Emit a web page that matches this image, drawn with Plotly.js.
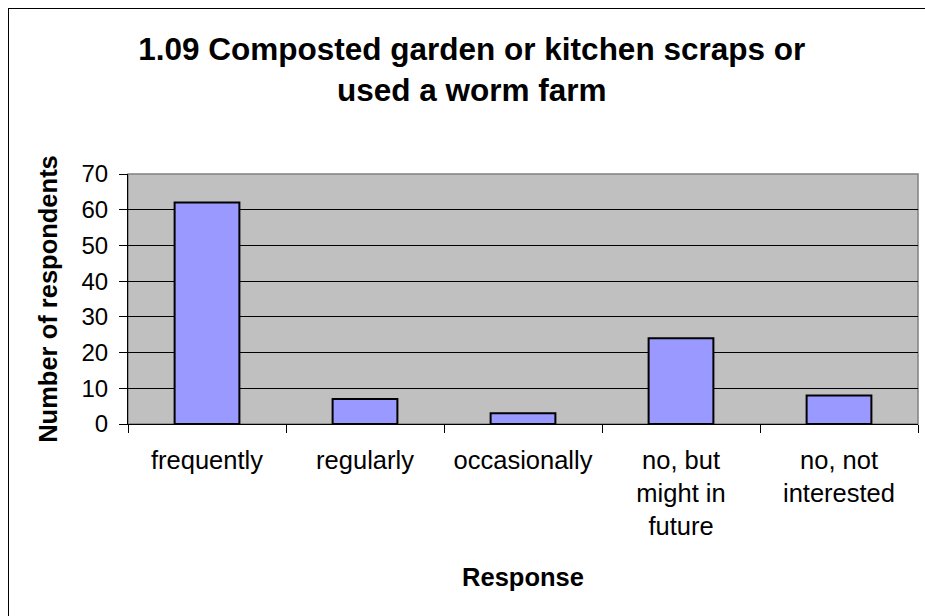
<!DOCTYPE html>
<html>
<head>
<meta charset="utf-8">
<script src="https://cdn.plot.ly/plotly-3.0.1.min.js"></script>
<style>
html,body{margin:0;padding:0;background:#fff;overflow:hidden;}
#wrap{position:relative;width:925px;height:616px;overflow:hidden;}
#chart{width:925px;height:616px;}
#frame{position:absolute;left:8px;top:8px;width:1000px;height:700px;border-left:1.5px solid #000;border-top:1.5px solid #000;pointer-events:none;}
</style>
</head>
<body>
<div id="wrap">
<div id="chart"></div>
<div id="frame"></div>
</div>
<script>
const categories = ["frequently", "regularly", "occasionally", "no, but<br>might in<br>future", "no, not<br>interested"];
const respondents = [62, 7, 3, 24, 8];
const yTicks = [0, 10, 20, 30, 40, 50, 60, 70];
const chartTitle = "1.09 Composted garden or kitchen scraps or<br>used a worm farm";
const xTitle = "Response";
const yTitle = "Number of respondents";

const FONT = "Liberation Sans, Arial, sans-serif";

const trace = {
  type: "bar",
  x: categories,
  y: respondents,
  marker: {color: "#9999FF", line: {color: "#000000", width: 2}},
  hoverinfo: "x+y"
};

const layout = {
  width: 925,
  height: 616,
  margin: {l: 128, r: 7, t: 174, b: 192},
  paper_bgcolor: "#ffffff",
  plot_bgcolor: "#C0C0C0",
  font: {family: FONT, color: "#000000"},
  showlegend: false,
  bargap: 0.59,
  title: {
    text: chartTitle,
    font: {family: FONT, size: 31.5, color: "#000000", weight: "bold"},
    x: 0.51, xanchor: "center",
    y: 0.903, yanchor: "bottom",
    xref: "container", yref: "container"
  },
  xaxis: {
    type: "category",
    tickson: "boundaries",
    ticks: "outside",
    ticklen: 8,
    tickcolor: "#000000",
    showline: true,
    linecolor: "#000000",
    linewidth: 1,
    showgrid: false,
    tickfont: {family: FONT, size: 25.5, color: "#000000"},
    ticklabelstandoff: 13,
    automargin: false,
    fixedrange: true,
    title: {text: xTitle, font: {family: FONT, size: 25.5, color: "#000000", weight: "bold"}, standoff: 29}
  },
  yaxis: {
    range: [0, 70],
    tickvals: yTicks,
    ticktext: yTicks.map(String),
    ticks: "outside",
    ticklen: 8,
    tickcolor: "#000000",
    showline: true,
    linecolor: "#000000",
    linewidth: 1,
    showgrid: true,
    gridcolor: "#000000",
    gridwidth: 1,
    zeroline: false,
    tickfont: {family: FONT, size: 24, color: "#000000"},
    ticklabelstandoff: 6,
    automargin: false,
    fixedrange: true,
    title: {text: yTitle, font: {family: FONT, size: 25.5, color: "#000000", weight: "bold"}, standoff: 16}
  },
  shapes: [
    {type: "rect", xref: "paper", yref: "paper", x0: 0, x1: 1, y0: 0, y1: 1,
     line: {color: "#808080", width: 1.5}, fillcolor: "rgba(0,0,0,0)", layer: "below"}
  ]
};

Plotly.newPlot("chart", [trace], layout, {displayModeBar: false, staticPlot: true});
</script>
</body>
</html>
